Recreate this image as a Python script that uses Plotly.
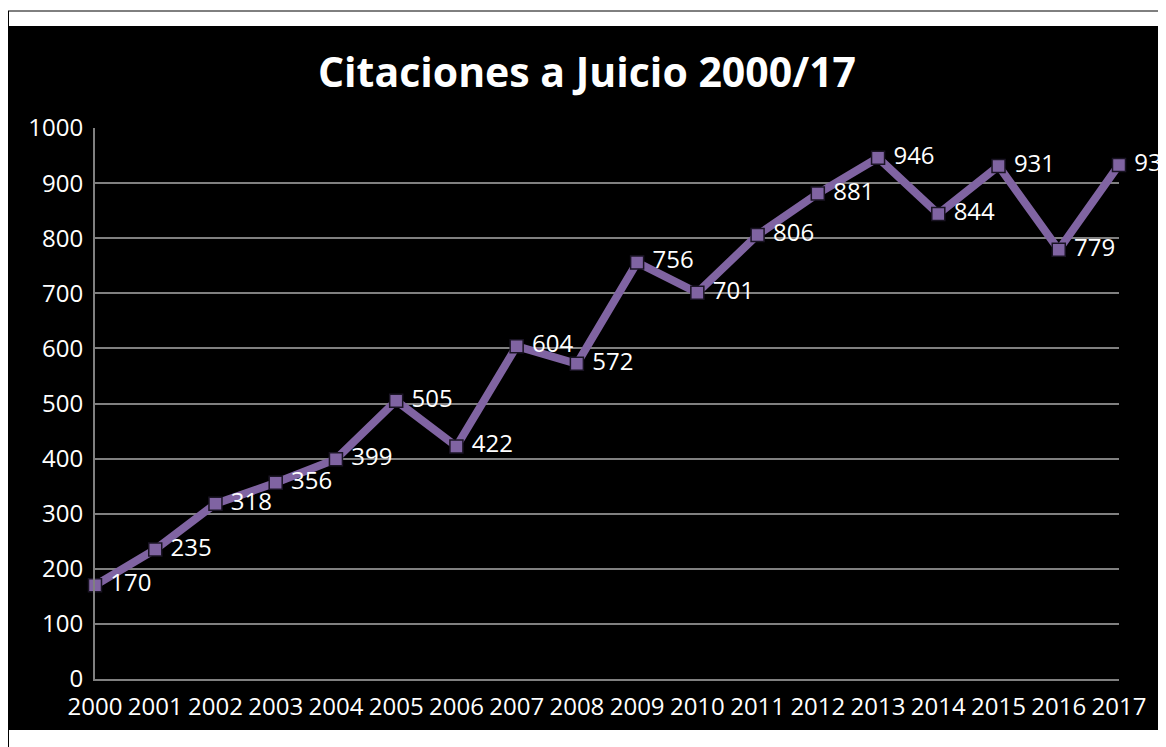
import plotly.graph_objects as go

years = [2000, 2001, 2002, 2003, 2004, 2005, 2006, 2007, 2008, 2009,
         2010, 2011, 2012, 2013, 2014, 2015, 2016, 2017]
citaciones = [170, 235, 318, 356, 399, 505, 422, 604, 572, 756,
              701, 806, 881, 946, 844, 931, 779, 933]
y_ticks = [0, 100, 200, 300, 400, 500, 600, 700, 800, 900, 1000]
title_text = "Citaciones a Juicio 2000/17"

# page has an 8px body margin, so the figure is drawn 8px right/down
OFF = 8
W, H = 1166 - OFF, 747 - OFF
L, R, T, B = 95 - OFF, 1166 - 1119, 128 - OFF, 747 - 679
pw, ph = W - L - R, H - T - B

def px_x(x):
    return (x - OFF - L) / pw

def px_y(y):
    return (H - B - (y - OFF)) / ph

purple = "#8064A2"
font_family = "Open Sans, Lato, sans-serif"

fig = go.Figure()
fig.add_trace(go.Scatter(
    x=years, y=citaciones,
    mode="lines+markers+text",
    line=dict(color=purple, width=8),
    marker=dict(symbol="square", size=13, color=purple,
                line=dict(color="#1a1424", width=1.5)),
    text=[" " + str(v) for v in citaciones],
    textposition="middle right",
    textfont=dict(color="white", size=24, family=font_family),
    cliponaxis=False,
    hoverinfo="x+y",
))

shapes = [
    # black chart area
    dict(type="rect", xref="paper", yref="paper", layer="below",
         x0=px_x(OFF), x1=px_x(1166 + 20), y0=px_y(730), y1=px_y(26),
         fillcolor="black", line=dict(width=0)),
    # outer thin border (top edge)
    dict(type="line", xref="paper", yref="paper", layer="below",
         x0=px_x(OFF), x1=px_x(1166 + 20), y0=px_y(11), y1=px_y(11),
         line=dict(color="black", width=1)),
    # outer thin border (left edge)
    dict(type="line", xref="paper", yref="paper", layer="below",
         x0=px_x(OFF + 0.5), x1=px_x(OFF + 0.5), y0=px_y(11), y1=px_y(747 + 20),
         line=dict(color="black", width=1)),
]

fig.update_layout(
    width=W, height=H,
    margin=dict(l=L, r=R, t=T, b=B),
    paper_bgcolor="white",
    plot_bgcolor="#444444",
    showlegend=False,
    shapes=shapes,
    title=dict(text=f"<b>{title_text}</b>", x=(587 - OFF) / W, xanchor="center",
               xref="container", y=1 - (73 - OFF) / H, yref="container",
               yanchor="middle",
               font=dict(color="white", size=41, family=font_family)),
)
fig.update_xaxes(
    range=[years[0], years[-1]],
    tickmode="array", tickvals=years, ticktext=[str(y) for y in years],
    showgrid=False, zeroline=False,
    showline=True, linecolor="#808080", linewidth=2,
    ticks="outside", ticklen=5, tickcolor="rgba(0,0,0,0)",
    tickfont=dict(color="white", size=24, family=font_family),
)
fig.update_yaxes(
    range=[0, 1000],
    tickmode="array", tickvals=y_ticks,
    showgrid=True, gridcolor="#808080", gridwidth=2,
    zeroline=False,
    showline=True, linecolor="#808080", linewidth=2,
    ticks="outside", ticklen=5, tickcolor="rgba(0,0,0,0)",
    tickfont=dict(color="white", size=24, family=font_family),
)

fig.write_html("out.html")
